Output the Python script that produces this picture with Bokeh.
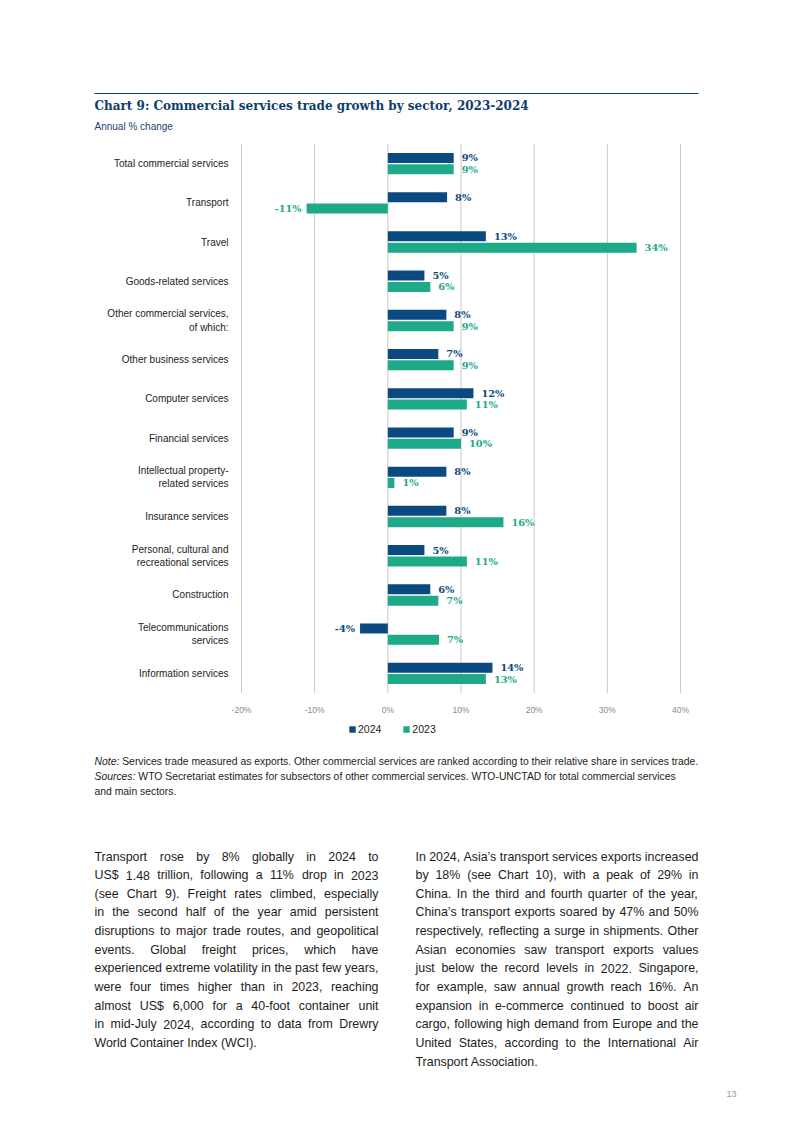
from bokeh.plotting import figure
from bokeh.models import (Range1d, ColumnDataSource, Label, Legend, LegendItem, LinearAxis,
                          PrintfTickFormatter, FixedTicker, BoxAnnotation)
from bokeh.transform import dodge
from bokeh.core.properties import value, field
from bokeh.embed import file_html
from bokeh.resources import INLINE

# ---------------- data ----------------
categories = [
    "Total commercial services",
    "Transport",
    "Travel",
    "Goods-related services",
    "Other commercial services,\nof which:",
    "Other business services",
    "Computer services",
    "Financial services",
    "Intellectual property-\nrelated services",
    "Insurance services",
    "Personal, cultural and\nrecreational services",
    "Construction",
    "Telecommunications\nservices",
    "Information services",
]
growth_2024 = [9.0, 8.1, 13.4, 5.0, 8.0, 6.9, 11.7, 9.0, 8.0, 8.0, 5.0, 5.8, -3.8, 14.3]
growth_2023 = [9.0, -11.1, 34.0, 5.8, 9.0, 9.0, 10.8, 10.0, 0.9, 15.8, 10.8, 6.9, 7.0, 13.4]
series_names = ["2024", "2023"]
x_ticks = [-20, -10, 0, 10, 20, 30, 40]

title_text = "Chart 9: Commercial services trade growth by sector, 2023-2024"
subtitle_text = "Annual % change"
note_label = "Note:"
note_text = ("Services trade measured as exports. Other commercial services are ranked "
             "according to their relative share in services trade.")
sources_label = "Sources:"
sources_text = ("WTO Secretariat estimates for subsectors of other commercial services. "
                "WTO-UNCTAD for total commercial services")
sources_text2 = "and main sectors."
left_lines = [
    "Transport rose by 8% globally in 2024 to",
    "US$ 1.48 trillion, following a 11% drop in 2023",
    "(see Chart 9). Freight rates climbed, especially",
    "in the second half of the year amid persistent",
    "disruptions to major trade routes, and geopolitical",
    "events. Global freight prices, which have",
    "experienced extreme volatility in the past few years,",
    "were four times higher than in 2023, reaching",
    "almost US$ 6,000 for a 40-foot container unit",
    "in mid-July 2024, according to data from Drewry",
    "World Container Index (WCI).",
]
right_lines = [
    "In 2024, Asia\u2019s transport services exports increased",
    "by 18% (see Chart 10), with a peak of 29% in",
    "China. In the third and fourth quarter of the year,",
    "China\u2019s transport exports soared by 47% and 50%",
    "respectively, reflecting a surge in shipments. Other",
    "Asian economies saw transport exports values",
    "just below the record levels in 2022. Singapore,",
    "for example, saw annual growth reach 16%. An",
    "expansion in e-commerce continued to boost air",
    "cargo, following high demand from Europe and the",
    "United States, according to the International Air",
    "Transport Association.",
]
page_number = "13"

# ---------------- style / layout ----------------
C24 = "#0a4a80"
C23 = "#1eaa88"
TITLE_C = "#0f3d6b"
TXT = "#1d1d1b"
GRID_C = "#c8c8c8"
SANS = "Liberation Sans"
SERIF = "DejaVu Serif"

W, H = 793, 1120
# pixel placement of the plotting area on the page
PX_LO, PX_HI = 241.0, 680.0          # x pixel of first / last tick
PY_FIRST, PY_STEP = 163.1, 39.214    # y pixel of first category centre, spacing

n = len(categories)
idx = list(range(n))
xt0, xt1 = x_ticks[0], x_ticks[-1]
sx = (PX_HI - PX_LO) / (xt1 - xt0)
x_range = Range1d(xt0 - PX_LO / sx, xt0 + (W - PX_LO) / sx)
y_range = Range1d((H - PY_FIRST) / PY_STEP, -PY_FIRST / PY_STEP)   # inverted: first category on top

p = figure(width=W, height=H, x_range=x_range, y_range=y_range,
           output_backend="svg", toolbar_location=None,
           x_axis_location=None, y_axis_location=None,
           min_border=0, min_border_left=0, min_border_right=0,
           min_border_top=0, min_border_bottom=0)
p.title.visible = False
p.outline_line_color = None
p.background_fill_color = "white"
p.border_fill_color = "white"
for g in list(p.grid):
    g.visible = False

y_lo, y_hi = -0.5, n - 0.5

# vertical grid lines (limited to the plotting area)
grid_src = ColumnDataSource(dict(x=x_ticks, y0=[y_lo] * len(x_ticks), y1=[y_hi] * len(x_ticks)))
p.segment(x0="x", y0="y0", x1="x", y1="y1", source=grid_src, line_color=GRID_C, line_width=1)

xaxis = LinearAxis(ticker=FixedTicker(ticks=x_ticks, minor_ticks=[]),
                   formatter=PrintfTickFormatter(format="%d%%"),
                   fixed_location=y_hi,
                   axis_line_color=None, major_tick_out=0, major_tick_in=0,
                   minor_tick_out=0, minor_tick_in=0, major_label_standoff=12,
                   major_label_text_font=SANS, major_label_text_font_size="8.5px",
                   major_label_text_color="#8a8a8a")
p.add_layout(xaxis, "below")

yaxis = LinearAxis(ticker=FixedTicker(ticks=idx, minor_ticks=[]),
                   major_label_overrides={i: c for i, c in zip(idx, categories)},
                   fixed_location=xt0,
                   axis_line_color=None, major_tick_out=0, major_tick_in=0,
                   minor_tick_out=0, minor_tick_in=0, major_label_standoff=13,
                   major_label_text_font=SANS, major_label_text_font_size="10px",
                   major_label_text_color=TXT)
p.add_layout(yaxis, "left")


def fmt(v):
    return f"{round(v)}%"


src = ColumnDataSource(dict(
    idx=idx,
    v24=growth_2024,
    v23=growth_2023,
    l24=[fmt(v) for v in growth_2024],
    l23=[fmt(v) for v in growth_2023],
    a24=["left" if v >= 0 else "right" for v in growth_2024],
    a23=["left" if v >= 0 else "right" for v in growth_2023],
    o24=[8 if v >= 0 else -5 for v in growth_2024],
    o23=[8 if v >= 0 else -5 for v in growth_2023],
))

D = 0.145
BH = 0.255
r24 = p.hbar(y=dodge("idx", -D), left=0, right="v24", height=BH,
             source=src, fill_color=C24, line_color=None)
r23 = p.hbar(y=dodge("idx", D), left=0, right="v23", height=BH,
             source=src, fill_color=C23, line_color=None)

for key, off, col in (("24", -D, C24), ("23", D, C23)):
    p.text(x="v" + key, y=dodge("idx", off), text="l" + key,
           text_align=field("a" + key), x_offset=field("o" + key), text_baseline="middle",
           text_font=value(SERIF), text_font_style="bold", text_font_size="9.8px",
           text_color=col, source=src)

legend = Legend(items=[LegendItem(label=series_names[0], renderers=[r24]),
                       LegendItem(label=series_names[1], renderers=[r23])],
                location=(348, H - 735), orientation="horizontal",
                glyph_width=8, glyph_height=8, label_height=8, label_width=10,
                label_standoff=2, spacing=21, padding=0, margin=0,
                border_line_color=None, background_fill_alpha=0,
                label_text_font=SANS, label_text_font_size="10.5px",
                label_text_color="#222222")
p.add_layout(legend)

# ---------------- page texts ----------------
AW = {" ": 278, "!": 278, "$": 556, "%": 889, "'": 191, "\u2019": 222, "(": 333, ")": 333,
      ",": 278, "-": 333, ".": 278, "/": 278, ":": 278, ";": 278,
      "A": 667, "B": 667, "C": 722, "D": 722, "E": 667, "F": 611, "G": 778, "H": 722,
      "I": 278, "J": 500, "K": 667, "L": 556, "M": 833, "N": 722, "O": 778, "P": 667,
      "Q": 778, "R": 722, "S": 667, "T": 611, "U": 722, "V": 667, "W": 944, "X": 667,
      "Y": 667, "Z": 611,
      "a": 556, "b": 556, "c": 500, "d": 556, "e": 556, "f": 278, "g": 556, "h": 556,
      "i": 222, "j": 222, "k": 500, "l": 222, "m": 833, "n": 556, "o": 556, "p": 556,
      "q": 556, "r": 333, "s": 500, "t": 278, "u": 556, "v": 500, "w": 722, "x": 500,
      "y": 500, "z": 500}
for d in "0123456789":
    AW[d] = 556


def tw(s, size):
    return sum(AW.get(c, 556) for c in s) * size / 1000.0


def put(X, Y, text, size, color=TXT, font=SANS, style="normal", align="left"):
    p.add_layout(Label(x=X, y=H - Y, x_units="screen", y_units="screen",
                       text=text, text_font=font, text_font_size=f"{size}px",
                       text_font_style=style, text_color=color, text_align=align,
                       text_baseline="middle"))


def justify(line, X0, X1, Y, size):
    words = line.split(" ")
    total = sum(tw(w, size) for w in words)
    gap = (X1 - X0 - total) / (len(words) - 1)
    x = X0
    for w in words:
        put(x, Y, w, size)
        x += tw(w, size) + gap


p.add_layout(BoxAnnotation(left=94, right=698, top=H - 92.4, bottom=H - 93.6,
                           left_units="screen", right_units="screen",
                           top_units="screen", bottom_units="screen",
                           fill_color=TITLE_C, fill_alpha=1, line_color=None))
put(94, 105, title_text, 12, color=TITLE_C, font=SERIF, style="bold")
put(94, 126, subtitle_text, 10, color="#1f446e")

NS = round(604 * 1000.0 / sum(AW.get(c, 556) for c in note_label + " " + note_text), 2)
put(94, 761, note_label, NS, style="italic")
put(94 + tw(note_label + " ", NS), 761, note_text, NS)
put(94, 776, sources_label, NS, style="italic")
put(94 + tw(sources_label + " ", NS), 776, sources_text, NS)
put(94, 791, sources_text2, NS)

BS = 12.4
LS = 18.64
for i, line in enumerate(left_lines):
    Y = 856 + LS * i
    if i < len(left_lines) - 1:
        justify(line, 94, 378, Y, BS)
    else:
        put(94, Y, line, BS)
for i, line in enumerate(right_lines):
    Y = 856 + LS * i
    if i < len(right_lines) - 1:
        justify(line, 415, 698, Y, BS)
    else:
        put(415, Y, line, BS)

put(736, 1093, page_number, 9, color="#9a9a9a", align="right")

open("out.html", "w").write(file_html(p, INLINE))
